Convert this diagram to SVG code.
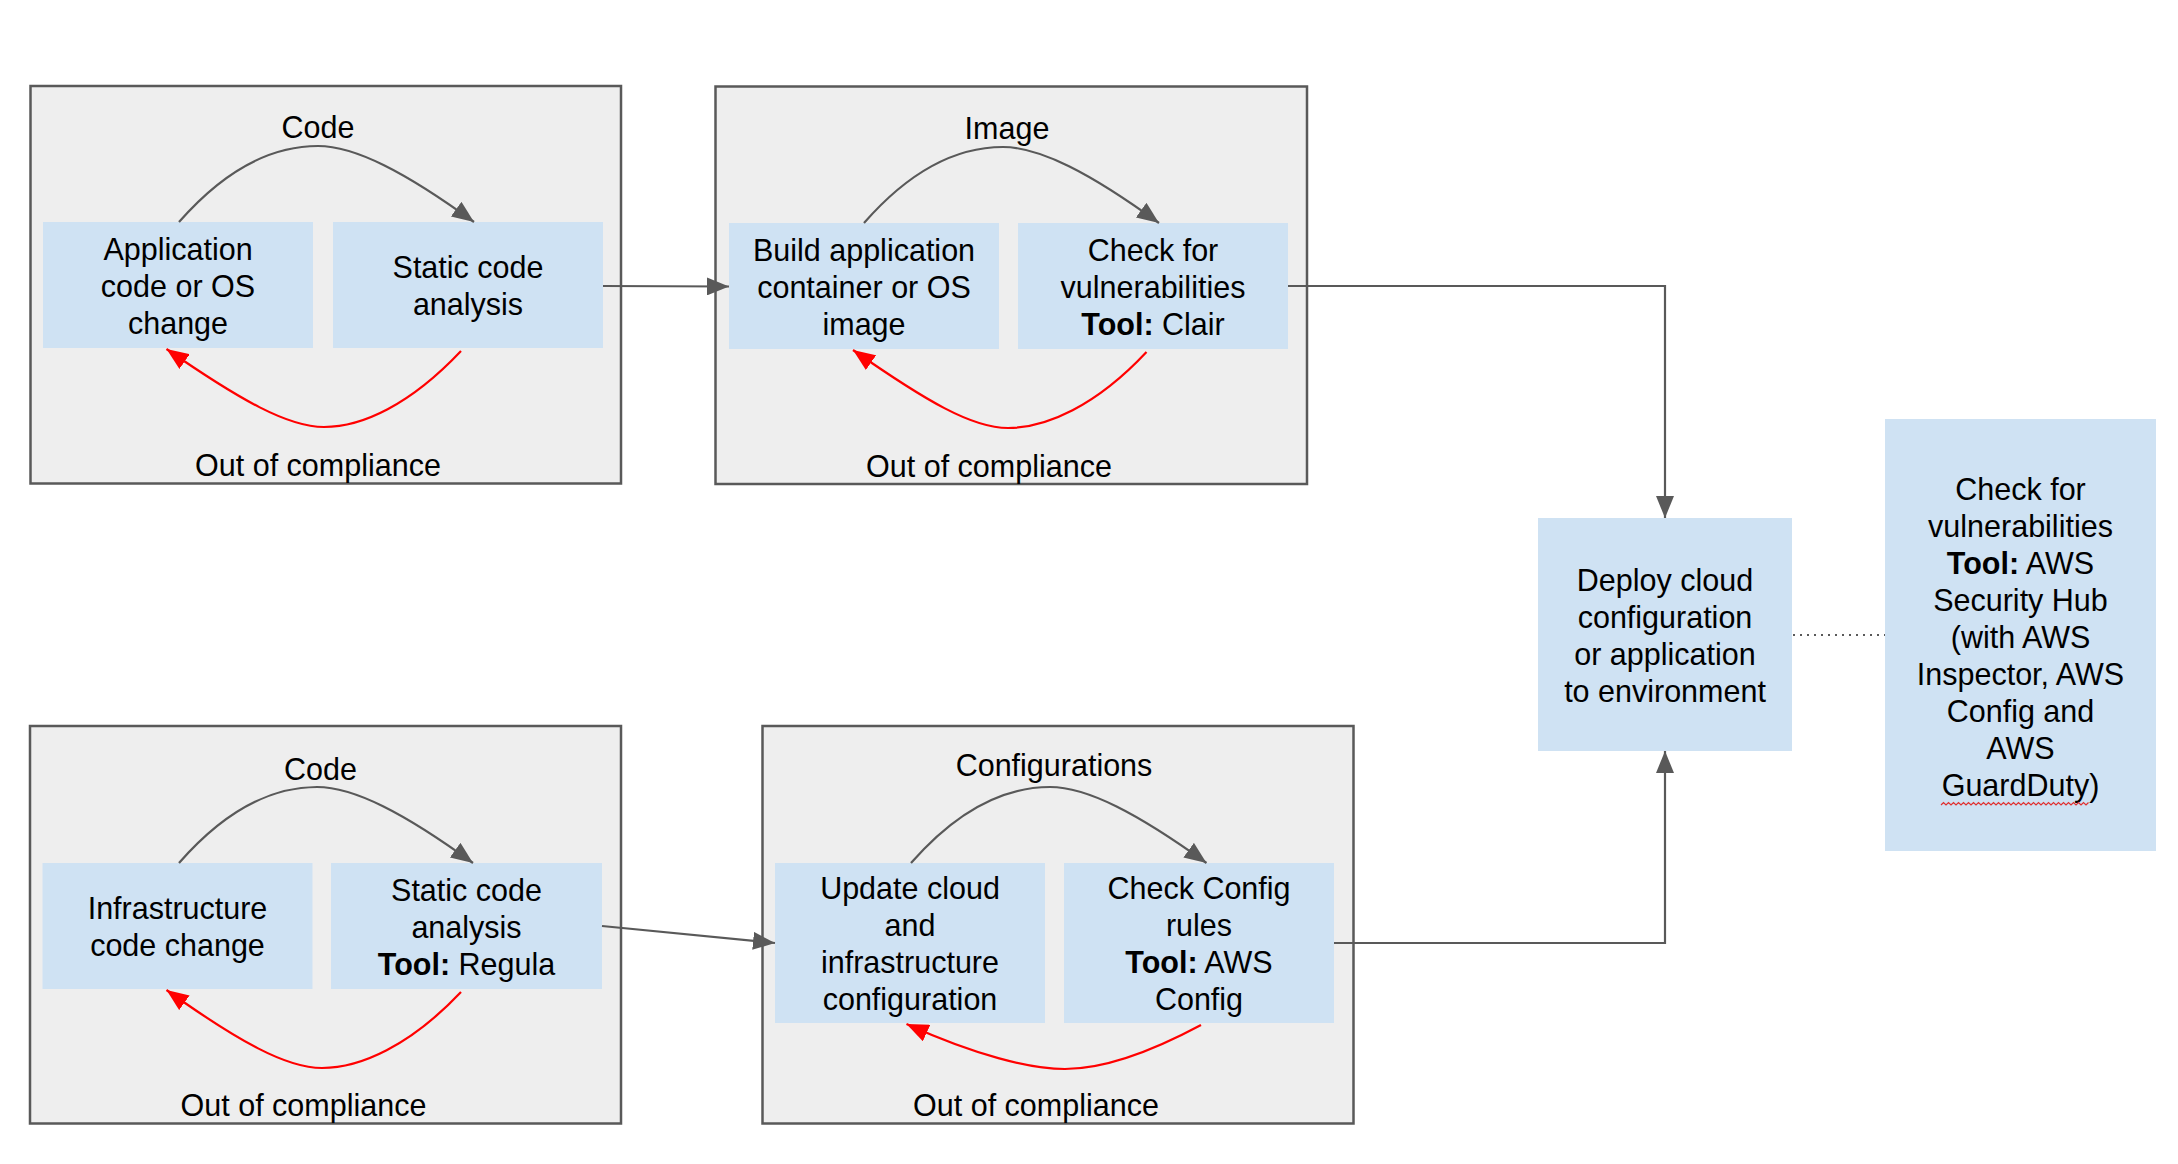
<svg xmlns="http://www.w3.org/2000/svg" width="2178" height="1164" viewBox="0 0 2178 1164">
<style>
.frame{fill:#eeeeee;stroke:#595959;stroke-width:2.5}
.node{fill:#cfe2f3}
text{font-family:"Liberation Sans",Arial,sans-serif;font-size:30.5px;fill:#000;text-anchor:middle}
.b{font-weight:bold}
.conn{fill:none;stroke:#595959;stroke-width:2.2}
.red{fill:none;stroke:#ff0000;stroke-width:2.2}
.dot{fill:none;stroke:#595959;stroke-width:2;stroke-dasharray:2 5}
</style>
<defs>
<marker id="ag" markerUnits="userSpaceOnUse" markerWidth="24" markerHeight="18" refX="22" refY="9" orient="auto"><path d="M0,0 L22,9 L0,18 z" fill="#595959"/></marker>
<marker id="ar" markerUnits="userSpaceOnUse" markerWidth="24" markerHeight="18" refX="22" refY="9" orient="auto"><path d="M0,0 L22,9 L0,18 z" fill="#ff0000"/></marker>
</defs>

<g id="frame-code-app">
<rect class="frame" x="30.5" y="86" width="590.5" height="397.5"/>
<text x="318" y="138">Code</text>
<text x="318" y="476">Out of compliance</text>
</g>
<g id="frame-image">
<rect class="frame" x="715.5" y="86.5" width="591.5" height="397.5"/>
<text x="1007" y="139">Image</text>
<text x="989" y="477">Out of compliance</text>
</g>
<g id="frame-code-infra">
<rect class="frame" x="30" y="726" width="591" height="397.5"/>
<text x="320.5" y="779.5">Code</text>
<text x="303.5" y="1116">Out of compliance</text>
</g>
<g id="frame-config">
<rect class="frame" x="762.5" y="726" width="591" height="397.5"/>
<text x="1054" y="775.5">Configurations</text>
<text x="1036" y="1116">Out of compliance</text>
</g>

<g id="node-app-change">
<rect class="node" x="43" y="222" width="270" height="126"/>
<text x="178" y="260">Application</text>
<text x="178" y="297">code or OS</text>
<text x="178" y="334">change</text>
</g>
<g id="node-static-app">
<rect class="node" x="333" y="222" width="270" height="126"/>
<text x="468" y="278">Static code</text>
<text x="468" y="315">analysis</text>
</g>
<g id="node-build-image">
<rect class="node" x="729" y="223" width="270" height="126"/>
<text x="864" y="261">Build application</text>
<text x="864" y="298">container or OS</text>
<text x="864" y="335">image</text>
</g>
<g id="node-clair">
<rect class="node" x="1018" y="223" width="270" height="126"/>
<text x="1153" y="261">Check for</text>
<text x="1153" y="298">vulnerabilities</text>
<text x="1153" y="335"><tspan class="b">Tool:</tspan> Clair</text>
</g>
<g id="node-infra-change">
<rect class="node" x="42.5" y="863" width="270" height="126"/>
<text x="177.5" y="919">Infrastructure</text>
<text x="177.5" y="956">code change</text>
</g>
<g id="node-regula">
<rect class="node" x="331" y="863" width="271" height="126"/>
<text x="466.5" y="901">Static code</text>
<text x="466.5" y="938">analysis</text>
<text x="466.5" y="975"><tspan class="b">Tool:</tspan> Regula</text>
</g>
<g id="node-update-config">
<rect class="node" x="775" y="863" width="270" height="160"/>
<text x="910" y="899">Update cloud</text>
<text x="910" y="936">and</text>
<text x="910" y="973">infrastructure</text>
<text x="910" y="1010">configuration</text>
</g>
<g id="node-aws-config">
<rect class="node" x="1064" y="863" width="270" height="160"/>
<text x="1199" y="899">Check Config</text>
<text x="1199" y="936">rules</text>
<text x="1199" y="973"><tspan class="b">Tool:</tspan> AWS</text>
<text x="1199" y="1010">Config</text>
</g>
<g id="node-deploy">
<rect class="node" x="1538" y="518" width="254" height="233"/>
<text x="1665" y="591">Deploy cloud</text>
<text x="1665" y="628">configuration</text>
<text x="1665" y="665">or application</text>
<text x="1665" y="702">to environment</text>
</g>
<g id="node-security-hub">
<rect class="node" x="1885" y="419" width="271" height="432"/>
<text x="2020.5" y="500">Check for</text>
<text x="2020.5" y="537">vulnerabilities</text>
<text x="2020.5" y="574"><tspan class="b">Tool:</tspan> AWS</text>
<text x="2020.5" y="611">Security Hub</text>
<text x="2020.5" y="648">(with AWS</text>
<text x="2020.5" y="685">Inspector, AWS</text>
<text x="2020.5" y="722">Config and</text>
<text x="2020.5" y="759">AWS</text>
<text x="2020.5" y="796">GuardDuty)</text>
<path d="M1941,805 l2.5,-2.5 l2.5,2.5 l2.5,-2.5 l2.5,2.5 l2.5,-2.5 l2.5,2.5 l2.5,-2.5 l2.5,2.5 l2.5,-2.5 l2.5,2.5 l2.5,-2.5 l2.5,2.5 l2.5,-2.5 l2.5,2.5 l2.5,-2.5 l2.5,2.5 l2.5,-2.5 l2.5,2.5 l2.5,-2.5 l2.5,2.5 l2.5,-2.5 l2.5,2.5 l2.5,-2.5 l2.5,2.5 l2.5,-2.5 l2.5,2.5 l2.5,-2.5 l2.5,2.5 l2.5,-2.5 l2.5,2.5 l2.5,-2.5 l2.5,2.5 l2.5,-2.5 l2.5,2.5 l2.5,-2.5 l2.5,2.5 l2.5,-2.5 l2.5,2.5 l2.5,-2.5 l2.5,2.5 l2.5,-2.5 l2.5,2.5 l2.5,-2.5 l2.5,2.5 l2.5,-2.5 l2.5,2.5 l2.5,-2.5 l2.5,2.5 l2.5,-2.5 l2.5,2.5 l2.5,-2.5 l2.5,2.5 l2.5,-2.5 l2.5,2.5 l2.5,-2.5 l2.5,2.5 l2.5,-2.5 l2.5,2.5 l2.5,-2.5" fill="none" stroke="#e03030" stroke-width="1.2"/>
</g>

<g id="connectors">
<path class="conn" marker-end="url(#ag)" d="M179,222 C235,158 285,146 318,146 C355,146 405,172 474,222"/>
<path class="red" marker-end="url(#ar)" d="M461,351 C410,405 362,427 324,427 C288,427 240,400 166.5,349"/>
<path class="conn" marker-end="url(#ag)" d="M864,223 C920,159 970,147 1003,147 C1040,147 1090,173 1159,223"/>
<path class="red" marker-end="url(#ar)" d="M1146.5,352 C1096,406 1046,428 1008,428 C972,428 926,401 853,350"/>
<path class="conn" marker-end="url(#ag)" d="M179,863 C235,799 284,787 317,787 C354,787 404,813 473,863"/>
<path class="red" marker-end="url(#ar)" d="M461,992 C410,1046 360,1068 322,1068 C286,1068 238,1041 166.5,990"/>
<path class="conn" marker-end="url(#ag)" d="M911,863 C967,799 1017,787 1050,787 C1087,787 1137,813 1206.5,863"/>
<path class="red" marker-end="url(#ar)" d="M1201,1025 C1145,1055 1100,1069 1065,1069 C1030,1069 975,1055 906.5,1024"/>
<path class="conn" marker-end="url(#ag)" d="M603,286 L729,286.5"/>
<path class="conn" marker-end="url(#ag)" d="M1288,286 H1665 V518"/>
<path class="conn" marker-end="url(#ag)" d="M602,926 L775,943"/>
<path class="conn" marker-end="url(#ag)" d="M1334,943 H1665 V751"/>
<path class="dot" d="M1793,635 H1885"/>
</g>
</svg>
